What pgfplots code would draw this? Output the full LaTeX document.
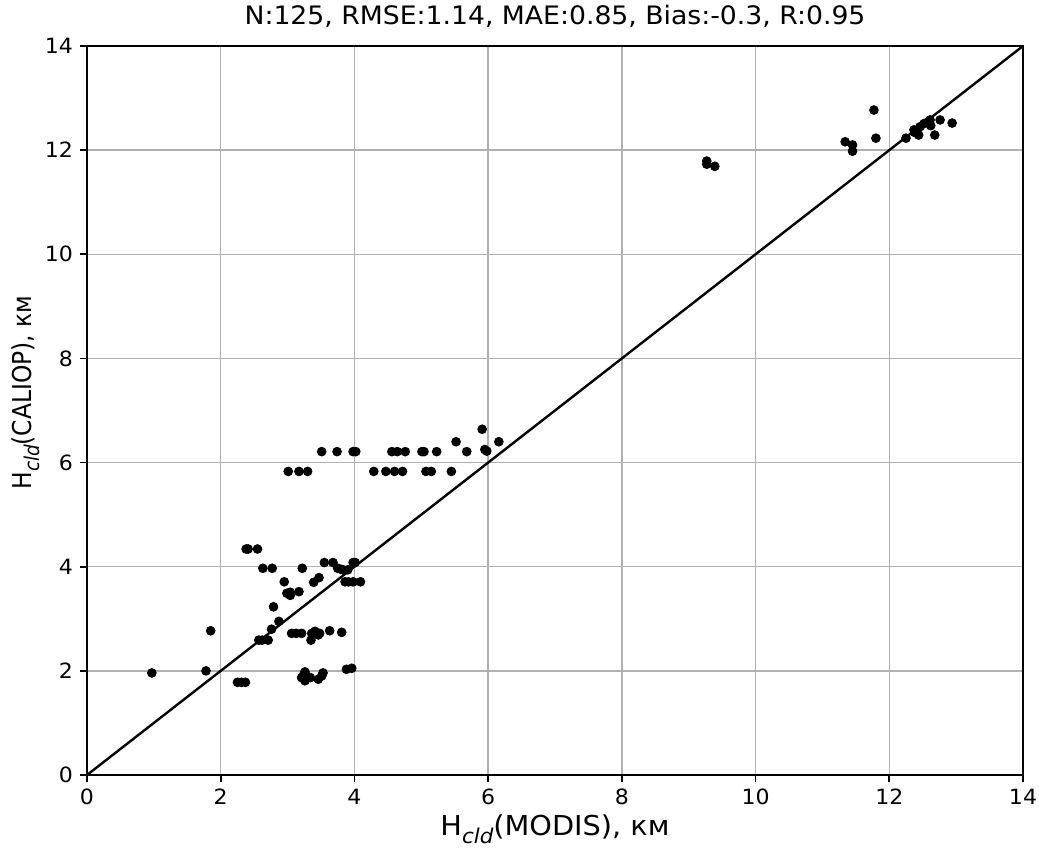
\documentclass[border=0pt]{standalone}
\usepackage{pgfplots}
\pgfplotsset{compat=1.18}
\usepackage{fontspec}
\setmainfont{DejaVu Sans}[FakeStretch=1.05]
\newfontfamily\ylabfont{DejaVu Sans}[FakeStretch=0.9]
\definecolor{gridgray}{HTML}{B0B0B0}
\newcommand{\sub}[1]{\raisebox{-0.3em}{\fontsize{10.2pt}{11pt}\selectfont\itshape #1}}
\begin{document}
\begin{tikzpicture}
\begin{axis}[
  name=ax,
  at={(0,0)}, anchor=south west,
  scale only axis,
  width=468pt, height=364.5pt,
  xmin=0, xmax=14, ymin=0, ymax=14,
  xtick={0,2,...,14}, ytick={0,2,...,14},
  grid=major,
  major grid style={color=gridgray, line width=0.7pt},
  axis line style={line width=0.8pt},
  tick style={line width=0.8pt, black},
  tick align=outside,
  major tick length=3.5pt,
  xtick pos=bottom, ytick pos=left,
  /pgf/number format/assume math mode=true,
  ticklabel style={font=\fontsize{10.5pt}{12pt}\selectfont},
  title={N:125, RMSE:1.14, MAE:0.85, Bias:-0.3, R:0.95},
  title style={at={(axis description cs:0.5,1)}, anchor=base, yshift=4.5pt, font=\fontsize{12.7pt}{15pt}\selectfont},
  xlabel={H\sub{cld}(MODIS), км},
  ylabel={H\sub{cld}(CALIOP), км},
  xlabel style={at={(axis description cs:0.5,0)}, anchor=base, yshift=-30pt, font=\fontsize{13.7pt}{16pt}\selectfont},
  ylabel style={at={(axis description cs:0,0.5)}, anchor=base, xshift=9pt, yshift=27.5pt, font=\ylabfont\fontsize{13pt}{15pt}\selectfont},
  clip=false,
]
\addplot[only marks, mark=*, mark size=2.2pt, black] coordinates {
(0.97,1.96) (1.78,2.00) (1.85,2.77)
(2.25,1.78) (2.31,1.78) (2.37,1.78)
(2.38,4.34) (2.41,4.34) (2.55,4.34)
(2.63,3.97) (2.77,3.97) (3.22,3.97)
(3.55,4.08) (3.68,4.08)
(3.75,3.97) (3.80,3.95) (3.83,3.94) (3.90,3.94) (3.98,4.08) (4.01,4.08)
(3.86,3.71) (3.91,3.71) (3.98,3.71) (4.09,3.71)
(2.95,3.71) (3.39,3.70) (3.47,3.79)
(2.99,3.49) (3.04,3.51) (3.04,3.45) (3.17,3.52)
(2.79,3.23) (2.87,2.95) (2.76,2.80)
(2.57,2.59) (2.62,2.59) (2.71,2.59)
(3.06,2.72) (3.13,2.72) (3.21,2.72)
(3.36,2.72) (3.41,2.76) (3.48,2.72) (3.46,2.69)
(3.35,2.59) (3.63,2.77) (3.81,2.74)
(3.26,1.98) (3.24,1.92) (3.21,1.87) (3.28,1.90) (3.26,1.81) (3.34,1.87) (3.46,1.84) (3.51,1.90) (3.53,1.96)
(3.88,2.03) (3.96,2.05)
(3.01,5.83) (3.17,5.83) (3.30,5.83) (4.29,5.83) (4.47,5.83) (4.60,5.83) (4.72,5.83) (5.07,5.83) (5.15,5.83) (5.45,5.83)
(3.51,6.21) (3.74,6.21) (3.98,6.21) (4.02,6.21) (4.56,6.21) (4.64,6.21) (4.76,6.21) (5.01,6.21) (5.04,6.21) (5.23,6.21) (5.68,6.21) (5.95,6.25) (5.98,6.22)
(5.52,6.40) (5.91,6.64) (6.16,6.40)
(9.27,11.79) (9.27,11.73) (9.39,11.69)
(11.77,12.77) (11.80,12.23) (11.34,12.16) (11.45,12.10) (11.45,11.98)
(12.25,12.23) (12.37,12.39) (12.38,12.34) (12.44,12.29) (12.46,12.45) (12.52,12.51) (12.58,12.54) (12.62,12.47) (12.61,12.58) (12.68,12.29) (12.76,12.58) (12.94,12.52)
};
\addplot[black, line width=1.2pt] coordinates {(0,0) (14,14)};
\end{axis}
\pgfresetboundingbox
\path[use as bounding box] (-43.5pt,-36pt) rectangle (476pt,387.5pt);
\end{tikzpicture}
\end{document}
